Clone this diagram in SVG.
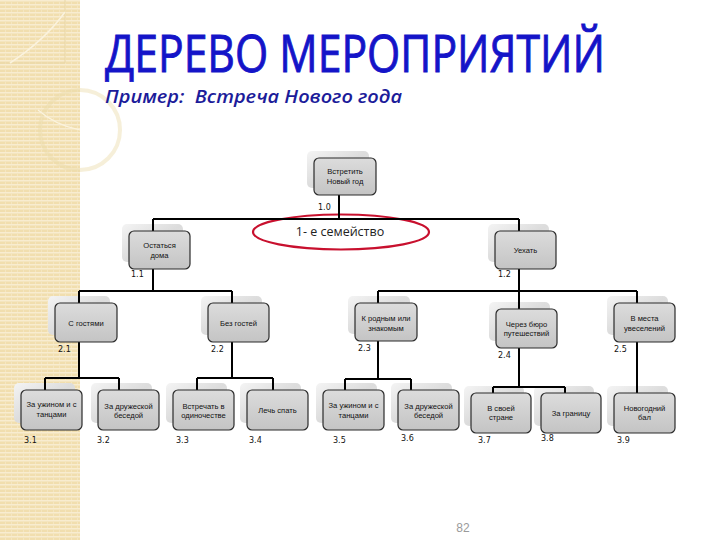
<svg xmlns="http://www.w3.org/2000/svg" width="720" height="540" viewBox="0 0 720 540">
<defs>
<pattern id="stripes" width="6" height="4" patternUnits="userSpaceOnUse">
<rect width="6" height="4" fill="#f1deae"/>
<rect y="0" width="6" height="1.5" fill="#f8ecd0"/>
<rect x="5" y="1.5" width="1" height="2.5" fill="#f5e6c0"/>
</pattern>
<linearGradient id="gnode" x1="0" y1="0" x2="0" y2="1">
<stop offset="0" stop-color="#dcdcdc"/>
<stop offset="1" stop-color="#c4c4c4"/>
</linearGradient>
<linearGradient id="gshadow" x1="0" y1="0" x2="1" y2="1">
<stop offset="0" stop-color="#f4f4f4"/>
<stop offset="0.5" stop-color="#dcdcdc"/>
<stop offset="1" stop-color="#e8e8e8"/>
</linearGradient>
<style>
.sh{fill:url(#gshadow);}
.nd{fill:url(#gnode);stroke:#2b2b2b;stroke-width:1.2;}
.nt{font-family:"Liberation Sans",Arial,sans-serif;font-size:7.6px;fill:#111;text-anchor:middle;}
.lb{font-family:"DejaVu Sans","Liberation Sans",sans-serif;font-size:8px;fill:#111;}
.cn{fill:none;stroke:#000;stroke-width:2;}
</style>
</defs>
<rect width="720" height="540" fill="#ffffff"/>
<g id="strip">
<rect x="0" y="0" width="80" height="540" fill="url(#stripes)"/>
<path d="M0,63 H65 V0" fill="none" stroke="#e9d7a6" stroke-width="1"/>
<path d="M10,63 Q45,40 65,12" fill="none" stroke="#fbf3de" stroke-width="1.5"/>
<circle cx="80" cy="130" r="40" fill="none" stroke="#ecdcab" stroke-width="4" opacity="0.45"/>
<path d="M38,110 Q55,125 80,130" fill="none" stroke="#fbf3de" stroke-width="1.2"/>
</g>
<g id="title">
<text x="105" y="72" font-family="'Open Sans','Noto Sans',sans-serif" font-size="52" fill="#1414c8" stroke="#1414c8" stroke-width="0.9" textLength="500" lengthAdjust="spacingAndGlyphs">ДЕРЕВО МЕРОПРИЯТИЙ</text>
<text x="105" y="103" font-family="'Open Sans','Noto Sans',sans-serif" font-size="18" font-style="italic" font-weight="600" fill="#1c1c9a" textLength="297" lengthAdjust="spacingAndGlyphs" xml:space="preserve">Пример:  Встреча Нового года</text>
</g>
<g id="family">
<ellipse cx="341" cy="232" rx="88" ry="17.5" fill="#ffffff" stroke="#c8102e" stroke-width="2.2"/>
<text x="340" y="236" font-family="'Open Sans','DejaVu Sans',sans-serif" font-size="12.5" fill="#222" text-anchor="middle">1- е семейство</text>
</g>
<g id="shadows">
<rect class="sh" x="307" y="151" width="62" height="37" rx="5"/>
<rect class="sh" x="122" y="224" width="61" height="38" rx="5"/>
<rect class="sh" x="488" y="224" width="61" height="38" rx="5"/>
<rect class="sh" x="48" y="296" width="62" height="39" rx="5"/>
<rect class="sh" x="201" y="296" width="61" height="39" rx="5"/>
<rect class="sh" x="348" y="296" width="62" height="38" rx="5"/>
<rect class="sh" x="489" y="302" width="61" height="39" rx="5"/>
<rect class="sh" x="607" y="296" width="61" height="39" rx="5"/>
<rect class="sh" x="14" y="383" width="61" height="40" rx="5"/>
<rect class="sh" x="91" y="383" width="61" height="40" rx="5"/>
<rect class="sh" x="166" y="383" width="61" height="40" rx="5"/>
<rect class="sh" x="240" y="383" width="61" height="40" rx="5"/>
<rect class="sh" x="316" y="383" width="61" height="40" rx="5"/>
<rect class="sh" x="391" y="383" width="61" height="40" rx="5"/>
<rect class="sh" x="464" y="386" width="60" height="40" rx="5"/>
<rect class="sh" x="534" y="386" width="60" height="40" rx="5"/>
<rect class="sh" x="607" y="386" width="61" height="40" rx="5"/>
</g>
<g id="connectors">
<path class="cn" d="M339,195 V219 M153,219 H519 M153,219 V231 M519,219 V231"/>
<path class="cn" d="M153,269 V291 M79,291 H232 M79,291 V303 M232,291 V303"/>
<path class="cn" d="M519,269 V291 M378,291 H637 M378,291 V303 M519,291 V309 M637,291 V303"/>
<path class="cn" d="M79,342 V378 M45,378 H119 M45,378 V390 M119,378 V390"/>
<path class="cn" d="M232,342 V378 M197,378 H273 M197,378 V390 M273,378 V390"/>
<path class="cn" d="M378,341 V379 M345,379 H411 M345,379 V390 M411,379 V390"/>
<path class="cn" d="M519,348 V387 M493,387 H565 M493,387 V393 M565,387 V393"/>
<path class="cn" d="M637,342 V393"/>
</g>
<g id="n10"><rect class="nd" x="314" y="158" width="62" height="37" rx="5"/><text class="nt" x="345" y="174">Встретить</text><text class="nt" x="345" y="183.5">Новый год</text><text class="lb" x="318" y="210">1.0</text></g>
<g id="n11"><rect class="nd" x="129" y="231" width="61" height="38" rx="5"/><text class="nt" x="159.5" y="248">Остаться</text><text class="nt" x="159.5" y="258">дома</text><text class="lb" x="131" y="277">1.1</text></g>
<g id="n12"><rect class="nd" x="495" y="231" width="61" height="38" rx="5"/><text class="nt" x="525.5" y="253">Уехать</text><text class="lb" x="498" y="277">1.2</text></g>
<g id="n21"><rect class="nd" x="55" y="303" width="62" height="39" rx="5"/><text class="nt" x="86" y="326">С гостями</text><text class="lb" x="58" y="352">2.1</text></g>
<g id="n22"><rect class="nd" x="208" y="303" width="61" height="39" rx="5"/><text class="nt" x="238.5" y="326">Без гостей</text><text class="lb" x="211" y="352">2.2</text></g>
<g id="n23"><rect class="nd" x="355" y="303" width="62" height="38" rx="5"/><text class="nt" x="386" y="321">К родным или</text><text class="nt" x="386" y="331">знакомым</text><text class="lb" x="358" y="351">2.3</text></g>
<g id="n24"><rect class="nd" x="496" y="309" width="61" height="39" rx="5"/><text class="nt" x="526.5" y="327">Через бюро</text><text class="nt" x="526.5" y="336">путешествий</text><text class="lb" x="498" y="358">2.4</text></g>
<g id="n25"><rect class="nd" x="614" y="303" width="61" height="39" rx="5"/><text class="nt" x="644.5" y="321">В места</text><text class="nt" x="644.5" y="331">увеселений</text><text class="lb" x="614" y="352">2.5</text></g>
<g id="n31"><rect class="nd" x="21" y="390" width="61" height="40" rx="5"/><text class="nt" x="51.5" y="407">За ужином и с</text><text class="nt" x="51.5" y="417">танцами</text><text class="lb" x="24" y="443">3.1</text></g>
<g id="n32"><rect class="nd" x="98" y="390" width="61" height="40" rx="5"/><text class="nt" x="128.5" y="409">За дружеской</text><text class="nt" x="128.5" y="418">беседой</text><text class="lb" x="97" y="443">3.2</text></g>
<g id="n33"><rect class="nd" x="173" y="390" width="61" height="40" rx="5"/><text class="nt" x="203.5" y="409">Встречать в</text><text class="nt" x="203.5" y="418">одиночестве</text><text class="lb" x="176" y="443">3.3</text></g>
<g id="n34"><rect class="nd" x="247" y="390" width="61" height="40" rx="5"/><text class="nt" x="277.5" y="413">Лечь спать</text><text class="lb" x="249" y="443">3.4</text></g>
<g id="n35"><rect class="nd" x="323" y="390" width="61" height="40" rx="5"/><text class="nt" x="353.5" y="408">За ужином и с</text><text class="nt" x="353.5" y="418">танцами</text><text class="lb" x="333" y="443">3.5</text></g>
<g id="n36"><rect class="nd" x="398" y="390" width="61" height="40" rx="5"/><text class="nt" x="428.5" y="409">За дружеской</text><text class="nt" x="428.5" y="418">беседой</text><text class="lb" x="401" y="441">3.6</text></g>
<g id="n37"><rect class="nd" x="471" y="393" width="60" height="40" rx="5"/><text class="nt" x="501" y="411">В своей</text><text class="nt" x="501" y="420">стране</text><text class="lb" x="478" y="443">3.7</text></g>
<g id="n38"><rect class="nd" x="541" y="393" width="60" height="40" rx="5"/><text class="nt" x="571" y="416">За границу</text><text class="lb" x="541" y="441">3.8</text></g>
<g id="n39"><rect class="nd" x="614" y="393" width="61" height="40" rx="5"/><text class="nt" x="644.5" y="411">Новогодний</text><text class="nt" x="644.5" y="420">бал</text><text class="lb" x="617" y="443">3.9</text></g>
<text x="463" y="532" font-family="'Liberation Sans',Arial,sans-serif" font-size="12" fill="#9a9a9a" text-anchor="middle">82</text>
</svg>
